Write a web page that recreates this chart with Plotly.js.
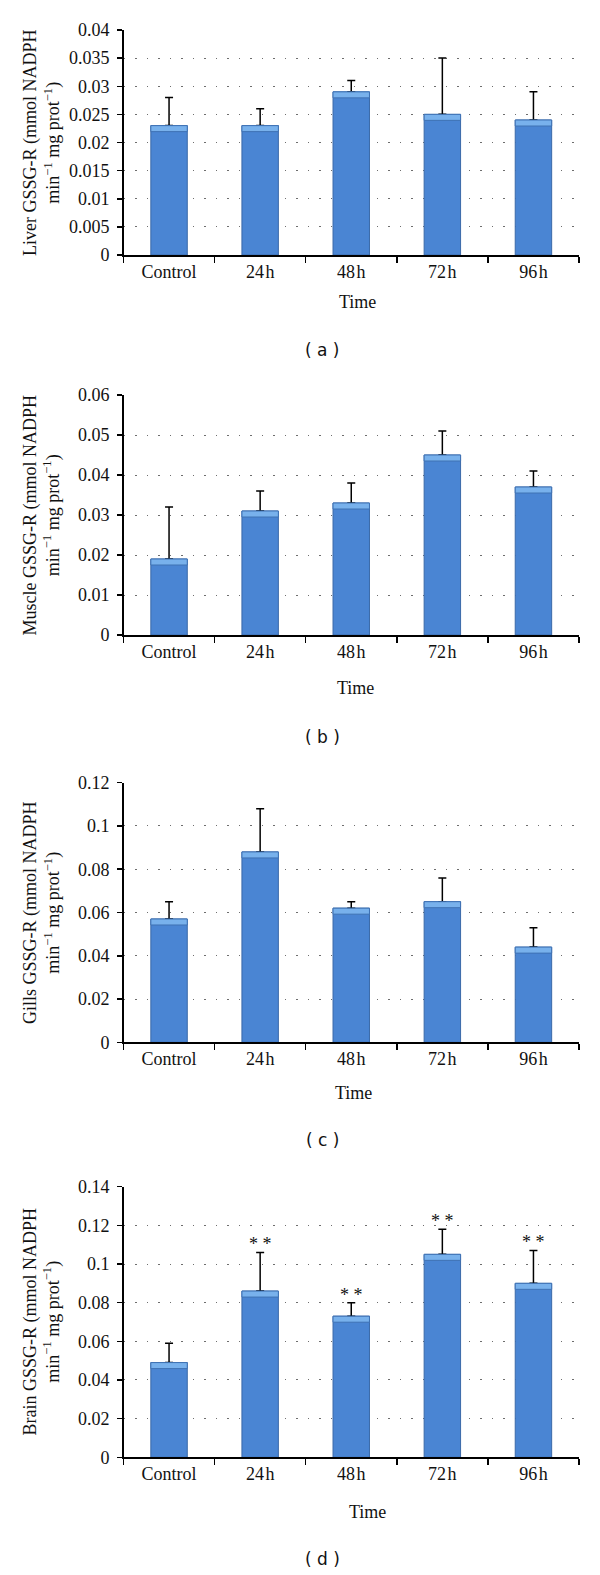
<!DOCTYPE html>
<html>
<head>
<meta charset="utf-8">
<script src="https://cdn.plot.ly/plotly-3.0.1.min.js"></script>
<style>html,body{margin:0;padding:0;background:#fff;}#chart{width:600px;height:1575px;}</style>
</head>
<body>
<div id="chart"></div>
<script>
// ---- data ----
var categories = ['Control', '24\u200ah', '48\u200ah', '72\u200ah', '96\u200ah'];

var liverMean   = [0.023, 0.023, 0.029, 0.025, 0.024];
var liverUpper  = [0.028, 0.026, 0.031, 0.035, 0.029];

var muscleMean  = [0.019, 0.031, 0.033, 0.045, 0.037];
var muscleUpper = [0.032, 0.036, 0.038, 0.051, 0.041];

var gillsMean   = [0.057, 0.088, 0.062, 0.065, 0.044];
var gillsUpper  = [0.065, 0.108, 0.065, 0.076, 0.053];

var brainMean   = [0.049, 0.086, 0.073, 0.105, 0.090];
var brainUpper  = [0.059, 0.106, 0.080, 0.118, 0.107];
var brainSig    = ['', '**', '**', '**', '**'];

var yTitles = ['Liver', 'Muscle', 'Gills', 'Brain'];
var yRanges = [[0, 0.04], [0, 0.06], [0, 0.12], [0, 0.14]];
var yDticks = [0.005, 0.01, 0.02, 0.02];
var panelLabels = ['( a )', '( b )', '( c )', '( d )'];

// ---- layout geometry (pixels) ----
var W = 600, H = 1575;
var plotTop    = [30, 395, 782.7, 1186.7];
var plotBottom = [255, 635, 1042.3, 1457.3];
var timeY      = [301.7, 688, 1093.3, 1511.7];
var timeX      = [357, 355, 353, 367];
var labelY     = [350, 737, 1140, 1559];
var xLeft = 123.5, xRight = 579;

var means  = [liverMean, muscleMean, gillsMean, brainMean];
var uppers = [liverUpper, muscleUpper, gillsUpper, brainUpper];

var serif = 'Liberation Serif, Times New Roman, serif';
var traces = [];
var layout = {
  width: W, height: H,
  margin: {l: 0, r: 0, t: 0, b: 0},
  paper_bgcolor: '#ffffff', plot_bgcolor: '#ffffff',
  showlegend: false,
  barmode: 'overlay',
  bargap: 0.6,
  font: {family: serif, size: 18, color: '#111'},
  annotations: []
};

function py(p) { return 1 - p / H; }

for (var k = 0; k < 4; k++) {
  var sfx = k === 0 ? '' : String(k + 1);
  var xa = 'x' + sfx, ya = 'y' + sfx;
  var m = means[k], u = uppers[k];
  var errPlus = m.map(function (v, i) { return +(u[i] - v).toFixed(4); });
  var errMinus = m.map(function () { return 0; });
  var span = yRanges[k][1] - yRanges[k][0];
  var pxH = plotBottom[k] - plotTop[k];
  var hl = span * 6 / pxH; // 6px highlight band in data units

  traces.push({
    type: 'bar', x: categories, y: m, xaxis: xa, yaxis: ya,
    marker: {color: '#4a85d3', line: {color: '#3a69a8', width: 1}},
    error_y: {type: 'data', symmetric: false, array: errPlus, arrayminus: errMinus,
              color: '#000', thickness: 1.5, width: 4},
    hoverinfo: 'skip'
  });
  traces.push({
    type: 'bar', x: categories, y: m.map(function () { return hl; }),
    base: m.map(function (v) { return v - hl; }), xaxis: xa, yaxis: ya,
    marker: {color: '#78b1ec', line: {color: '#3f72b4', width: 1}},
    hoverinfo: 'skip'
  });

  layout['xaxis' + sfx] = {
    domain: [xLeft / W, xRight / W], anchor: ya,
    type: 'category',
    showline: true, linecolor: '#000', linewidth: 1.5,
    ticks: 'outside', tickson: 'boundaries', ticklen: 6, tickwidth: 1.5, tickcolor: '#000',
    showgrid: false, zeroline: false,
    tickfont: {family: serif, size: 18, color: '#111'},
    fixedrange: true
  };
  layout['yaxis' + sfx] = {
    domain: [py(plotBottom[k]), py(plotTop[k])], anchor: xa,
    range: yRanges[k], dtick: yDticks[k], tick0: 0,
    showline: true, linecolor: '#000', linewidth: 1.5,
    ticks: 'outside', ticklen: 5, tickwidth: 1.5, tickcolor: '#000',
    ticklabelstandoff: 4,
    showgrid: true, gridcolor: '#6e6e6e', gridwidth: 1, griddash: '1.5px,10px',
    zeroline: false,
    tickfont: {family: serif, size: 18, color: '#111'},
    fixedrange: true
  };

  // y-axis title
  layout.annotations.push({
    xref: 'paper', yref: 'paper', x: 41.5 / W, y: py((plotTop[k] + plotBottom[k]) / 2),
    xanchor: 'center', yanchor: 'middle', textangle: -90, showarrow: false,
    text: yTitles[k] + ' GSSG-R (mmol NADPH<br>min<sup>\u22121</sup> mg prot<sup>\u22121</sup>)',
    font: {family: serif, size: 18, color: '#111'}
  });
  // x-axis title
  layout.annotations.push({
    xref: 'paper', yref: 'paper', x: timeX[k] / W, y: py(timeY[k]),
    xanchor: 'center', yanchor: 'middle', showarrow: false,
    text: 'Time', font: {family: serif, size: 18, color: '#111'}
  });
  // panel label
  layout.annotations.push({
    xref: 'paper', yref: 'paper', x: 322.7 / W, y: py(labelY[k]),
    xanchor: 'center', yanchor: 'middle', showarrow: false,
    text: panelLabels[k], font: {family: 'DejaVu Sans, sans-serif', size: 17, color: '#111'}
  });
}

// significance markers on brain panel
for (var i = 0; i < categories.length; i++) {
  if (brainSig[i]) {
    layout.annotations.push({
      xref: 'x4', yref: 'y4', x: categories[i], y: brainUpper[i],
      xanchor: 'center', yanchor: 'bottom', showarrow: false, yshift: -4,
      text: brainSig[i].split('').join(' '),
      font: {family: serif, size: 18, color: '#111'}
    });
  }
}

Plotly.newPlot('chart', traces, layout, {staticPlot: true, displayModeBar: false});
</script>
</body>
</html>
